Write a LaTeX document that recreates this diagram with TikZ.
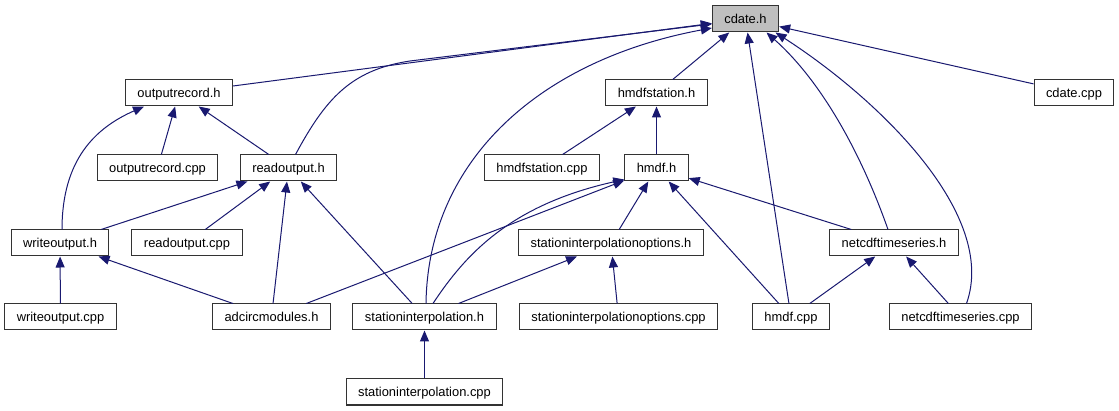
\documentclass[tikz,border=0pt]{standalone}
\usepackage{fontspec}
\setmainfont{Liberation Sans}
\usepackage{tikz}
\usetikzlibrary{arrows.meta}
\definecolor{depblue}{RGB}{25,25,112}
\tikzset{file/.style={draw=black!80,line width=1pt,fill=white,minimum height=26pt,inner xsep=12pt,inner ysep=0pt,text height=10.5pt,text depth=2pt,font=\fontsize{12.9}{15}\selectfont}}
\tikzset{current/.style={file,fill=black!25}}
\tikzset{dep/.style={depblue,line width=1pt,-{Triangle[length=11pt,width=9pt]}}}

\begin{document}
\begin{tikzpicture}[x=1pt,y=-1pt]
    \useasboundingbox [fill=white] (0,0) rectangle (1119,411);
    % files
    \node at (745.5,19) [current] (cdateh) {cdate.h};
    \node at (179,93) [file] (outrech) {outputrecord.h};
    \node at (656.5,93) [file] (hmdfsth) {hmdfstation.h};
    \node at (1074,93) [file] (cdatecpp) {cdate.cpp};
    \node at (157.5,168) [file] (outreccpp) {outputrecord.cpp};
    \node at (288.5,168) [file] (readh) {readoutput.h};
    \node at (542,168) [file] (hmdfstcpp) {hmdfstation.cpp};
    \node at (656.5,168) [file] (hmdfh) {hmdf.h};
    \node at (60,243) [file] (writeh) {writeoutput.h};
    \node at (187,243) [file] (readcpp) {readoutput.cpp};
    \node at (611,243) [file] (stopth) {stationinterpolationoptions.h};
    \node at (894,243) [file] (netcdfh) {netcdftimeseries.h};
    \node at (60.5,317) [file] (writecpp) {writeoutput.cpp};
    \node at (271.5,317) [file] (adcirch) {adcircmodules.h};
    \node at (424.5,317) [file] (stinth) {stationinterpolation.h};
    \node at (618.5,317) [file] (stoptcpp) {stationinterpolationoptions.cpp};
    \node at (791,317) [file] (hmdfcpp) {hmdf.cpp};
    \node at (960.5,317) [file] (netcdfcpp) {netcdftimeseries.cpp};
    \node at (424.5,392) [file] (stintcpp) {stationinterpolation.cpp};
    % includes of cdate.h
    \draw [dep] (outrech) -- (cdateh);
    \draw [dep] ([xshift=7pt]readh.north) .. controls (325,100) and (350,70) .. (410,61) -- ([yshift=-5pt]cdateh.west);
    \draw [dep] ([xshift=1.5pt]stinth.north) .. controls (428,160) and (540,60) .. ([yshift=-9pt]cdateh.west);
    \draw [dep] (hmdfsth) -- (cdateh);
    \draw [dep] (hmdfcpp) -- (cdateh);
    \draw [dep] ([xshift=-6pt]netcdfh.north) .. controls (860,150) and (820,80) .. ([xshift=21pt]cdateh.south);
    \draw [dep] ([xshift=6pt]netcdfcpp.north) .. controls (998,215) and (880,100) .. ([xshift=30pt]cdateh.south);
    \draw [dep] (cdatecpp) -- (cdateh);
    % the rest
    \draw [dep] ([xshift=2pt]writeh.north) .. controls (62,160) and (95,128) .. ([xshift=-35pt]outrech.south);
    \draw [dep] (outreccpp) -- (outrech);
    \draw [dep] (readh) -- (outrech);
    \draw [dep] (writeh) -- (readh);
    \draw [dep] (readcpp) -- (readh);
    \draw [dep] (adcirch) -- (readh);
    \draw [dep] (stinth) -- (readh);
    \draw [dep] (hmdfstcpp) -- (hmdfsth);
    \draw [dep] (hmdfh) -- (hmdfsth);
    \draw [dep] (adcirch) -- (hmdfh);
    \draw [dep] ([xshift=8.5pt]stinth.north) .. controls (465,255) and (510,205) .. ([yshift=2pt]hmdfh.south west);
    \draw [dep] (stopth) -- (hmdfh);
    \draw [dep] (hmdfcpp) -- (hmdfh);
    \draw [dep] (netcdfh) -- (hmdfh);
    \draw [dep] (writecpp) -- (writeh);
    \draw [dep] (adcirch) -- (writeh);
    \draw [dep] (stinth) -- (stopth);
    \draw [dep] (stoptcpp) -- (stopth);
    \draw [dep] (hmdfcpp) -- (netcdfh);
    \draw [dep] (netcdfcpp) -- (netcdfh);
    \draw [dep] (stintcpp) -- (stinth);
\end{tikzpicture}
\end{document}
